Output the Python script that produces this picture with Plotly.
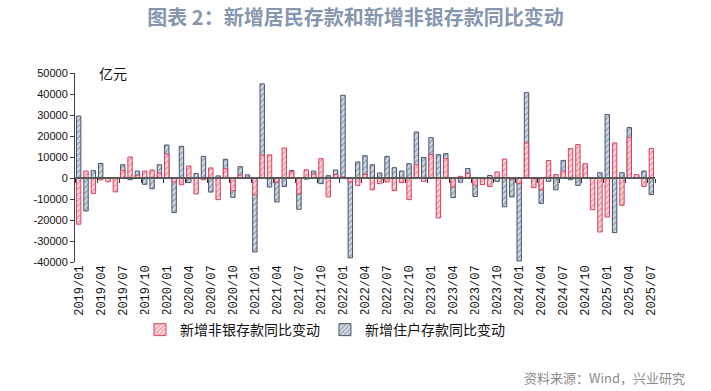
import plotly.graph_objects as go

months = [f"{y}/{m:02d}" for y in range(2019, 2026) for m in range(1, 13)][:79]

nonbank = [-22000, 3300, -7300, -900, -1800, -6600, 3600, 10000, 1300, 3300,
           3800, 2400, 11400, -1900, -3200, 5700, -7600, -800, 4800, -10300,
           4400, -6000, 1400, 300, -8000, 11000, 11000, -2000, 14300, 3000,
           -7500, 3900, 2000, 9200, -9000, 1700, 500, -1900, -3500, 1700,
           -5600, -2700, -1900, -6000, -2200, -10300, 6300, -1600, 11100, -19000,
           9200, -4200, 800, 2200, -3400, -3100, -4100, 2900, 9000, -600,
           -2700, 16700, -4600, -5600, 8300, 1600, 3300, 14000, 15900, 6800,
           -15100, -25700, -18600, 16700, -13000, 19200, 1600, -4000, 14000]

household = [29500, -15700, 3500, 6900, -500, -300, 6300, -800, 3300, -3000,
             -5100, 6300, 15700, -16500, 15100, -2200, 2100, 10300, -6700, 1000,
             8900, -9200, 5400, 1500, -35200, 44800, -4300, -11400, -4000, 3600,
             -14900, -500, 3300, -2700, 1100, 3800, 39400, -38000, 7600, 10600,
             6300, 2400, 10300, 4900, 3300, 6800, 21900, 9800, 19200, 11100,
             11600, -9300, -2000, 4500, -8800, -800, 1200, -1600, -13700, -9000,
             -39500, 40600, -2000, -12100, -1600, -5600, 8400, -800, -3500, 6300,
             -500, 2500, 30200, -26000, 2500, 24000, 1200, 3300, -7900]

name_nb = "新增非银存款同比变动"
name_hh = "新增住户存款同比变动"
y_ticks = [50000, 40000, 30000, 20000, 10000, 0, -10000, -20000, -30000, -40000]

idx = list(range(len(months)))
label_idx = idx[::3]
label_txt = months[::3]
bound_idx = [i - 0.5 for i in idx[::3]] + [len(months) - 0.5]

fig = go.Figure()
fig.add_trace(go.Bar(
    x=idx, y=household, name=name_hh, width=0.6, legendrank=2,
    marker=dict(color="#b9c4d8", line=dict(color="#44546a", width=1),
                pattern=dict(shape="/", fgcolor="#44546a", bgcolor="#d3dae7",
                             size=4, solidity=0.3)),
))
fig.add_trace(go.Bar(
    x=idx, y=nonbank, name=name_nb, width=0.6, legendrank=1,
    marker=dict(color="#f4c0c9", line=dict(color="#d8405c", width=1),
                pattern=dict(shape="/", fgcolor="#d8405c", bgcolor="#f9d7dd",
                             size=4, solidity=0.3)),
))
# invisible trace on secondary x axis (zero line + tick marks)
fig.add_trace(go.Scatter(x=[idx[0]], y=[0], xaxis="x2", mode="markers",
                         marker=dict(opacity=0), showlegend=False, hoverinfo="skip"))

ymin, ymax = -40000, 50000
dom = [0.0, 1.0]
zero_pos = dom[0] + (0 - ymin) / (ymax - ymin) * (dom[1] - dom[0])

fig.update_layout(
    width=711, height=391,
    margin=dict(l=75, r=56, t=73, b=129),
    paper_bgcolor="white", plot_bgcolor="white",
    barmode="overlay",
    font=dict(family="Liberation Sans, Arial, sans-serif", size=11, color="#222"),
    title=dict(text="<b>图表 2：新增居民存款和新增非银存款同比变动</b>",
               x=0.5, xanchor="center", y=0.955, yanchor="middle",
               font=dict(family="Noto Sans CJK SC", size=20, color="#8596ae")),
    xaxis=dict(range=[-0.5, len(months) - 0.5], tickmode="array",
               tickvals=label_idx, ticktext=label_txt, tickangle=-90,
               showline=False, showgrid=False, zeroline=False, ticks="",
               tickfont=dict(family="Liberation Mono, monospace", size=12, color="#111")),
    xaxis2=dict(range=[-0.5, len(months) - 0.5], overlaying="x", anchor="free",
                position=zero_pos, side="bottom", tickmode="array", tickvals=bound_idx,
                showticklabels=False, ticks="outside", ticklen=4, tickwidth=1.2,
                tickcolor="#333333", showline=True, linecolor="#595959", linewidth=1.5,
                showgrid=False, zeroline=False, layer="above traces"),
    yaxis=dict(range=[ymin, ymax], domain=dom, tickmode="array", tickvals=y_ticks,
               ticktext=[str(v) for v in y_ticks], showgrid=False,
               zeroline=False,
               showline=True, linecolor="#404040", linewidth=1,
               ticks="outside", ticklen=4, tickcolor="#404040",
               layer="above traces",
               tickfont=dict(size=11, color="#111")),
    legend=dict(orientation="h", x=0.112, xanchor="left", y=-0.36, yanchor="middle",
                traceorder="normal", itemwidth=30, entrywidth=140,
                font=dict(family="Noto Sans CJK SC", size=14, color="#111")),
    showlegend=True,
    annotations=[
        dict(text="亿元", xref="paper", yref="paper", x=0.038, y=1.0,
             xanchor="left", yanchor="middle", showarrow=False,
             font=dict(family="Noto Sans CJK SC", size=14, color="#111")),
        dict(text="资料来源：Wind，兴业研究", xref="paper", yref="paper",
             x=1.055, y=-0.61, xanchor="right", yanchor="middle", showarrow=False,
             font=dict(family="Noto Sans CJK SC", size=13, color="#8c8c8c")),
    ],
)

fig.write_html("out.html", config={"displayModeBar": False},
               post_script="document.body.style.margin='0';")
